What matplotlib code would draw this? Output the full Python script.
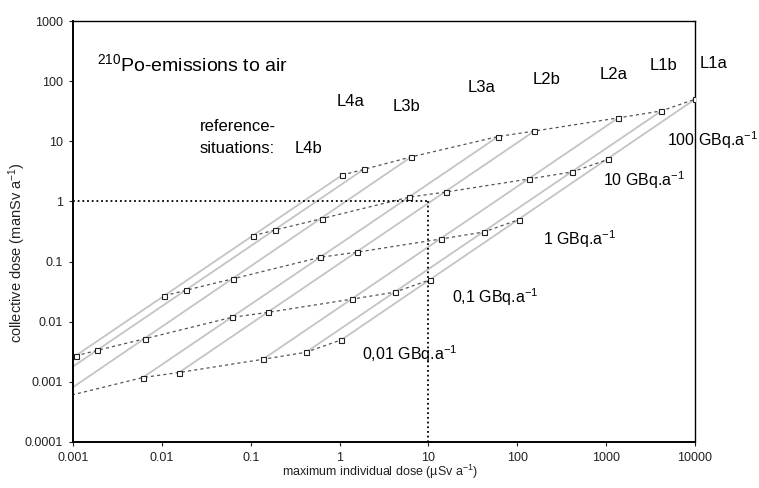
import matplotlib
matplotlib.use("Agg")
import matplotlib.pyplot as plt

plt.rcParams['font.family'] = ['Liberation Sans', 'DejaVu Sans']
plt.rcParams['mathtext.fontset'] = 'custom'
plt.rcParams['mathtext.rm'] = 'Liberation Sans'
plt.rcParams['mathtext.it'] = 'Liberation Sans:italic'
plt.rcParams['mathtext.bf'] = 'Liberation Sans:bold'

# reference situations (order along each emission line)
situations = ["L4b", "L4a", "L3b", "L3a", "L2b", "L2a", "L1b", "L1a"]
emission_labels = ["0,01", "0,1", "1", "10", "100"]

# maximum individual dose (uSv/a) per emission level
ind_001 = [0.000107, 0.000186, 0.00064, 0.0061, 0.0156, 0.137, 0.418, 1.05]
ind_01 = [0.00107, 0.00186, 0.0064, 0.061, 0.156, 1.37, 4.18, 10.5]
ind_1 = [0.0107, 0.0186, 0.064, 0.61, 1.56, 13.7, 41.8, 105]
ind_10 = [0.107, 0.186, 0.64, 6.1, 15.6, 137, 418, 1050]
ind_100 = [1.07, 1.86, 6.4, 61, 156, 1370, 4180, 10000]

# collective dose (manSv/a) per emission level
col_001 = [0.00027, 0.000333, 0.00052, 0.00118, 0.00143, 0.00237, 0.0031, 0.0050]
col_01 = [0.0027, 0.00333, 0.0052, 0.0118, 0.0143, 0.0237, 0.031, 0.050]
col_1 = [0.027, 0.0333, 0.052, 0.118, 0.143, 0.237, 0.31, 0.50]
col_10 = [0.27, 0.333, 0.52, 1.18, 1.43, 2.37, 3.1, 5.0]
col_100 = [2.75, 3.4, 5.5, 12.0, 14.8, 24.5, 32, 50]

ind_rows = [ind_001, ind_01, ind_1, ind_10, ind_100]
col_rows = [col_001, col_01, col_1, col_10, col_100]

# reference dose criterion
ref_ind = 10
ref_col = 1

xticks = [0.001, 0.01, 0.1, 1, 10, 100, 1000, 10000]
xticklabels = ["0.001", "0.01", "0.1", "1", "10", "100", "1000", "10000"]
yticks = [0.0001, 0.001, 0.01, 0.1, 1, 10, 100, 1000]
yticklabels = ["0.0001", "0.001", "0.01", "0.1", "1", "10", "100", "1000"]

W, H = 759, 488
fig = plt.figure(figsize=(W / 100, H / 100), dpi=100)
L, R, T, B = 73, 695, 21, 442
ax = fig.add_axes([L / W, (H - B) / H, (R - L) / W, (B - T) / H])
ax.set_xscale('log')
ax.set_yscale('log')
ax.set_xlim(0.001, 10000)
ax.set_ylim(0.0001, 1000)

# reference situation lines (gray)
for j in range(len(situations)):
    ax.plot([ind_rows[0][j], ind_rows[-1][j]], [col_rows[0][j], col_rows[-1][j]],
            color='#c4c4c4', lw=1.3, solid_capstyle='butt', zorder=1)

# emission level lines with markers
for xs, ys in zip(ind_rows, col_rows):
    ax.plot(xs, ys, color='#555555', lw=0.9, ls=(0, (2.5, 2.5)), zorder=2)
    ax.plot(xs, ys, ls='none', marker='s', ms=3.6, mfc='white', mec='#222222',
            mew=0.8, zorder=3)

# dotted reference lines
ax.plot([0.001, ref_ind], [ref_col, ref_col], color='black', lw=1.3,
        ls=(0, (1.0, 1.6)), zorder=4)
ax.plot([ref_ind, ref_ind], [ref_col, 0.0001], color='black', lw=1.3,
        ls=(0, (1.0, 1.6)), zorder=4)

ax.set_xticks(xticks)
ax.set_xticklabels(xticklabels)
ax.set_yticks(yticks)
ax.set_yticklabels(yticklabels)
ax.minorticks_off()
ax.tick_params(direction='out', length=3, width=0.8, labelsize=9, pad=4,
               colors='#222222')
for s in ['left', 'bottom']:
    ax.spines[s].set_linewidth(1.4)
for s in ['top', 'right']:
    ax.spines[s].set_linewidth(1.0)

ax.set_xlabel("maximum individual dose (µSv a$^{-1}$)", fontsize=9, color='#222222')
ax.xaxis.set_label_coords((380 - L) / (R - L), (B - 463) / (B - T))
ax.set_ylabel("collective dose (manSv a$^{-1}$)", fontsize=10.5, color='#222222')
ax.yaxis.set_label_coords((28 - L) / (R - L), (B - 253) / (B - T))


def fx(px):
    return (px - L) / (R - L)


def fy(py):
    return (B - py) / (B - T)


tr = ax.transAxes
ax.text(fx(97), fy(71), "$^{210}$Po-emissions to air", fontsize=14,
        transform=tr, ha='left', va='baseline')
ax.text(fx(200), fy(131.5), "reference-", fontsize=12, transform=tr,
        ha='left', va='baseline')
ax.text(fx(200), fy(153), "situations:", fontsize=12, transform=tr,
        ha='left', va='baseline')

sit_pos = [(295, 153), (337, 106), (393, 111), (468, 92.5), (533, 83.5),
           (600, 79.5), (650, 70), (700, 68.5)]
for name, (px, py) in zip(situations, sit_pos):
    ax.text(fx(px), fy(py), name, fontsize=12, transform=tr, ha='left',
            va='baseline', clip_on=False)

em_pos = [(362, 360), (452, 302.5), (543, 245), (603, 186.5), (667, 146)]
for lab, (px, py) in zip(emission_labels, em_pos):
    ax.text(fx(px), fy(py), lab + " GBq.a$^{-1}$", fontsize=11.5, transform=tr,
            ha='left', va='baseline', clip_on=False, zorder=0)

fig.savefig("out.png", dpi=100)
